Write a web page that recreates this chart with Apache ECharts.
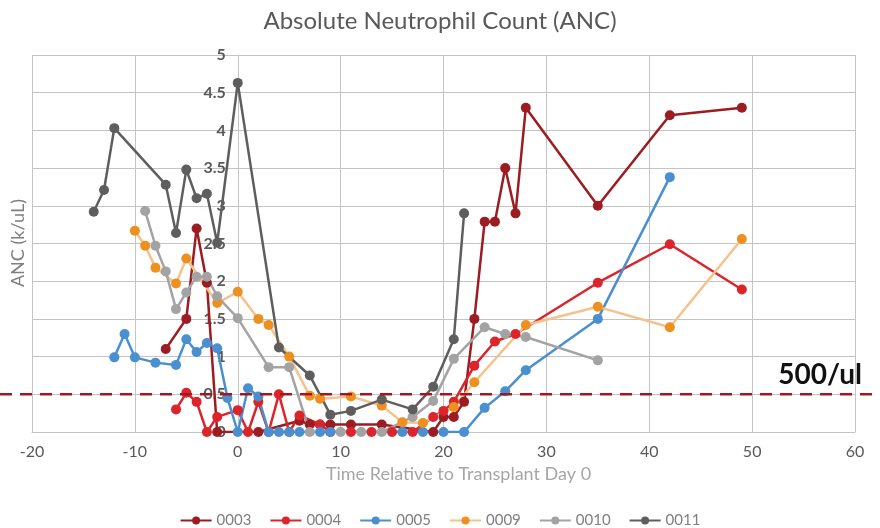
<!DOCTYPE html>
<html><head><meta charset="utf-8">
<script src="https://cdn.jsdelivr.net/npm/echarts@6/dist/echarts.min.js"></script>
<style>html,body{margin:0;padding:0;background:#fff}#c{width:880px;height:528px}</style>
</head><body><div id="c"></div>
<script>
// ---- data ----
const chartTitle = 'Absolute Neutrophil Count (ANC)';
const xAxisTitle = 'Time Relative to Transplant Day 0';
const yAxisTitle = 'ANC (k/uL)';
const seriesNames = ['0003', '0004', '0005', '0009', '0010', '0011'];

const days0003 = [-7, -5, -4, -3, -2, 2, 6, 7, 8, 9, 11, 14, 19, 20, 21, 22, 23, 24, 25, 26, 27, 28, 35, 42, 49];
const anc0003  = [1.1, 1.5, 2.7, 1.98, 0, 0, 0.15, 0.1, 0.1, 0.1, 0.1, 0.1, 0, 0.2, 0.2, 0.4, 1.5, 2.79, 2.79, 3.5, 2.9, 4.3, 3.0, 4.2, 4.3];

const days0004 = [-6, -5, -4, -3, -2, 0, 1, 2, 3, 4, 5, 6, 8, 9, 11, 13, 15, 17, 19, 20, 21, 23, 25, 27, 35, 42, 49];
const anc0004  = [0.3, 0.52, 0.4, 0, 0.2, 0.29, 0, 0.4, 0, 0.5, 0, 0.22, 0.1, 0, 0, 0, 0, 0, 0.2, 0.28, 0.4, 0.88, 1.2, 1.3, 1.98, 2.49, 1.89];

const days0005 = [-12, -11, -10, -8, -6, -5, -4, -3, -2, -1, 0, 1, 2, 3, 4, 5, 6, 8, 9, 16, 18, 20, 22, 24, 26, 28, 35, 42];
const anc0005  = [0.99, 1.3, 0.99, 0.92, 0.89, 1.23, 1.06, 1.18, 1.11, 0.45, 0, 0.58, 0.47, 0, 0, 0, 0, 0, 0, 0, 0, 0, 0, 0.32, 0.54, 0.82, 1.5, 3.38];

const days0009 = [-10, -9, -8, -6, -5, -2, 0, 2, 3, 5, 7, 8, 11, 14, 16, 18, 21, 23, 28, 35, 42, 49];
const anc0009  = [2.67, 2.47, 2.18, 1.97, 2.3, 1.71, 1.86, 1.5, 1.42, 1.0, 0.48, 0.44, 0.47, 0.35, 0.13, 0.12, 0.33, 0.66, 1.42, 1.66, 1.39, 2.56];

const days0010 = [-9, -8, -7, -6, -5, -4, -3, -2, 0, 3, 5, 7, 10, 12, 14, 17, 19, 21, 24, 26, 28, 35];
const anc0010  = [2.93, 2.47, 2.13, 1.63, 1.85, 2.06, 2.06, 1.8, 1.51, 0.86, 0.86, 0, 0, 0, 0, 0.2, 0.41, 0.97, 1.39, 1.3, 1.26, 0.95];

const days0011 = [-14, -13, -12, -7, -6, -5, -4, -3, -2, 0, 4, 7, 9, 11, 14, 17, 19, 21, 22];
const anc0011  = [2.92, 3.21, 4.03, 3.28, 2.64, 3.48, 3.1, 3.16, 2.51, 4.63, 1.12, 0.75, 0.23, 0.28, 0.43, 0.3, 0.6, 1.23, 2.9];

const xMin = -20, xMax = 60, xStep = 10;
const yMin = 0, yMax = 5, yStep = 0.5;
const yAxisCrossAt = 0;
const thresholdValue = 0.5;
const thresholdLabel = '500/ul';

// ---- styles ----
const dayArrays = [days0003, days0004, days0005, days0009, days0010, days0011];
const ancArrays = [anc0003, anc0004, anc0005, anc0009, anc0010, anc0011];
const pointColors = ['#9C1C22', '#DC252B', '#4A8FD0', '#EE9020', '#A3A3A3', '#5E5E5E'];
const lineColors  = ['#9C1C22', '#DC252B', '#4A8FD0', '#F5C28C', '#A3A3A3', '#5E5E5E'];
const FONT = 'Lato, "Open Sans", sans-serif';
const gridColor = '#C4C4C4';
const gridLeft = 32;

const chart = echarts.init(document.getElementById('c'), null, {renderer: 'canvas'});

const series = seriesNames.map((name, k) => ({
  name: name,
  type: 'line',
  data: dayArrays[k].map((d, i) => [d, ancArrays[k][i]]),
  symbol: 'circle',
  symbolSize: 10,
  showSymbol: true,
  animation: false,
  itemStyle: {color: pointColors[k]},
  lineStyle: {color: lineColors[k], width: 2.5},
  emphasis: {disabled: true}
}));

chart.setOption({
  animation: false,
  backgroundColor: '#ffffff',
  title: {
    text: chartTitle,
    left: 'center',
    top: 4,
    textStyle: {color: '#595959', fontSize: 24, fontWeight: 'normal', fontFamily: FONT}
  },
  legend: {
    data: seriesNames,
    left: 'center',
    top: 508,
    itemWidth: 31,
    itemHeight: 10,
    itemGap: 18,
    textStyle: {color: '#7F7F7F', fontSize: 15, fontFamily: FONT}
  },
  grid: {left: gridLeft, right: 25, top: 55, bottom: 96, containLabel: false, outerBoundsMode: 'none'},
  xAxis: {
    type: 'value',
    min: xMin, max: xMax, interval: xStep,
    name: xAxisTitle,
    nameLocation: 'middle',
    nameGap: 33,
    nameTextStyle: {color: '#A6A6A6', fontSize: 18, fontFamily: FONT, padding: [0, 0, 0, 30]},
    axisLine: {show: true, onZero: false, lineStyle: {color: gridColor, width: 1}},
    axisTick: {show: false},
    axisLabel: {color: '#595959', fontSize: 16, fontFamily: FONT, margin: 12},
    splitLine: {show: true, lineStyle: {color: gridColor, width: 1}}
  },
  yAxis: {
    type: 'value',
    min: yMin, max: yMax, interval: yStep,
    axisLine: {show: true, onZero: false, lineStyle: {color: gridColor, width: 1}},
    axisTick: {show: false},
    axisLabel: {color: '#595959', fontSize: 16, fontWeight: 'bold', fontFamily: FONT, margin: 12},
    splitLine: {show: true, lineStyle: {color: gridColor, width: 1}}
  },
  series: series
});

// move the y axis so it crosses at x = 0 (position from the x scale)
const xCross = chart.convertToPixel({xAxisIndex: 0}, yAxisCrossAt);
chart.setOption({yAxis: {offset: -(xCross - gridLeft)}});

// threshold dashed line spanning the whole width, positioned through the y scale
const yPix = chart.convertToPixel({yAxisIndex: 0}, thresholdValue);
chart.setOption({
  graphic: [
    {
      type: 'line',
      z: 5,
      shape: {x1: 0, y1: yPix, x2: 880, y2: yPix},
      style: {stroke: '#A3171D', lineWidth: 2.5, lineDash: [12, 8]}
    },
    {
      type: 'text',
      z: 6,
      x: 862, y: yPix - 5,
      style: {text: thresholdLabel, fill: '#111111', font: 'bold 28px ' + FONT, align: 'right', verticalAlign: 'bottom'}
    },
    {
      type: 'text',
      x: 18, y: 243,
      rotation: Math.PI / 2,
      style: {text: yAxisTitle, fill: '#7F7F7F', font: '18px ' + FONT, align: 'center', verticalAlign: 'middle'}
    }
  ]
});
</script>
</body></html>
